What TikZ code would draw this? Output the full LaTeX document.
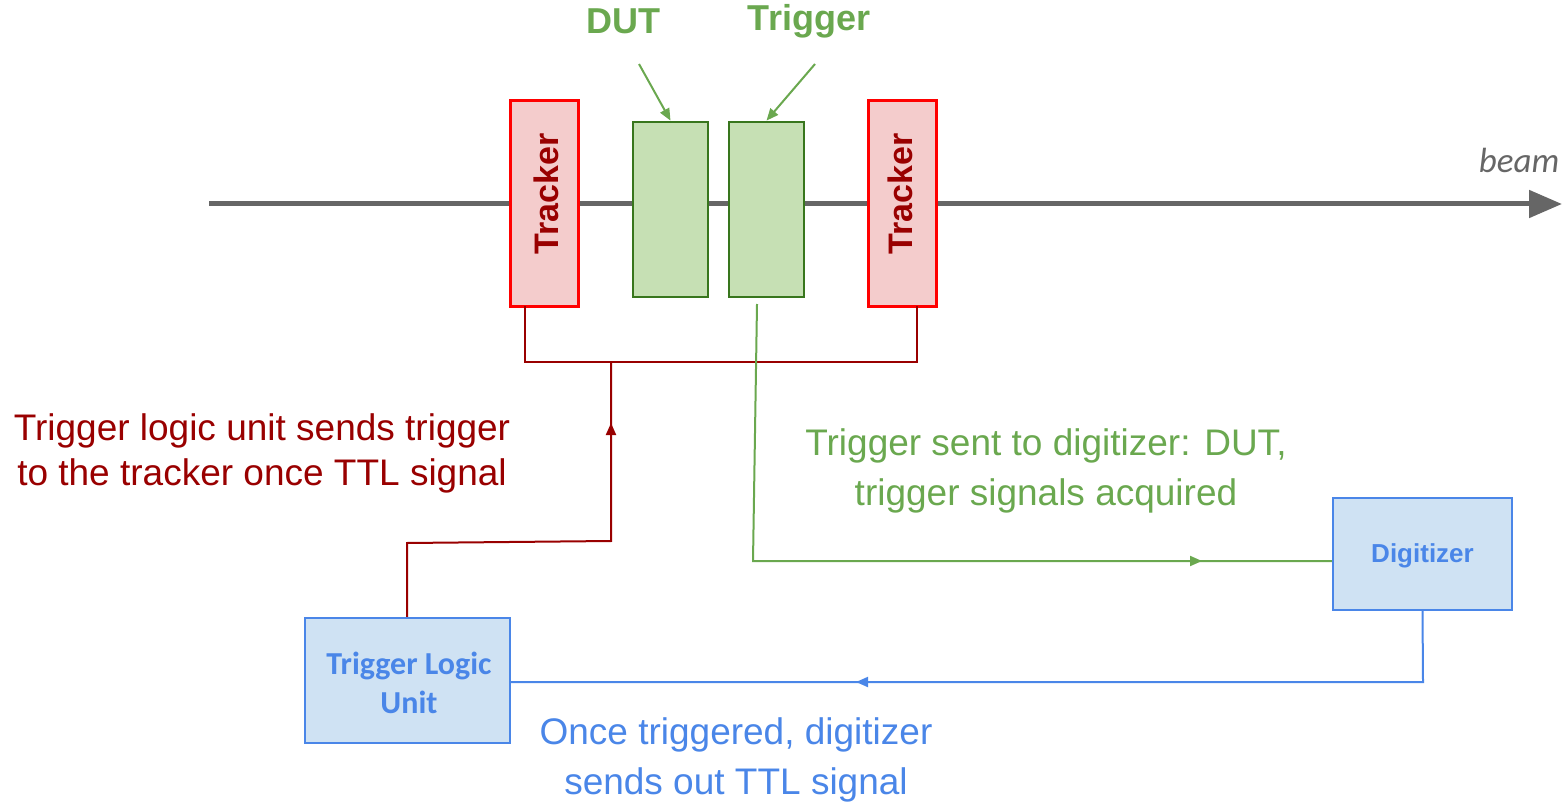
\documentclass[tikz,border=0pt]{standalone}
\usepackage{fontspec}
\setmainfont{Liberation Sans}
\newfontfamily\carlito{Carlito}
\usetikzlibrary{arrows.meta}
\definecolor{trkred}{HTML}{FF0000}
\definecolor{trkfill}{HTML}{F4CCCC}
\definecolor{dred}{HTML}{990000}
\definecolor{gtext}{HTML}{6AA84F}
\definecolor{gdark}{HTML}{38761D}
\definecolor{gfill}{HTML}{C6E0B4}
\definecolor{bline}{HTML}{4A86E8}
\definecolor{bfill}{HTML}{CFE2F3}
\definecolor{beamgray}{HTML}{666666}
\tikzset{
  trackerbox/.style={draw=trkred, fill=trkfill, line width=1.5pt, minimum width=34pt, minimum height=102.5pt, inner sep=0pt},
  detbox/.style={draw=gdark, fill=gfill, line width=1.4pt, minimum width=37.5pt, minimum height=87.5pt, inner sep=0pt},
  bluebox/.style={draw=bline, fill=bfill, line width=1.2pt, inner sep=0pt, text=bline},
  trackertext/.style={rotate=90, text=dred, inner sep=0pt, font=\bfseries\fontsize{17}{20}\selectfont},
  redwire/.style={draw=dred, line width=1pt},
  greenwire/.style={draw=gtext, line width=1pt},
  bluewire/.style={draw=bline, line width=1pt},
  smalltip/.style={-{Triangle[length=6pt,width=5pt]}},
  bodytext/.style={font=\fontsize{18.5}{22.5}\selectfont, align=center, inner sep=0pt},
}
\begin{document}
\begin{tikzpicture}[x=0.5pt,y=-0.5pt]
\useasboundingbox (0,0) rectangle (1562,802);
% beam
\coordinate (b0) at (209,204);
\coordinate (b1) at (1562,204);
\draw[beamgray, line width=2.5pt, -{Triangle[length=16.5pt,width=13.5pt]}] (b0) -- (b1);
\node[text=beamgray, font=\carlito\itshape\fontsize{17.5}{20}\selectfont, inner sep=0pt] (beamlbl) at (1519,160) {beam};
% detectors
\node[trackerbox] (trL) at (544,203.5) {};
\node[trackerbox] (trR) at (902,203.5) {};
\node[trackertext] (trLt) at (546,194) {Tracker};
\node[trackertext] (trRt) at (900,194) {Tracker};
\node[detbox] (dut) at (670.5,209.5) {};
\node[detbox] (trig) at (766.5,209.5) {};
% top labels
\node[text=gtext, font=\bfseries\fontsize{18}{21}\selectfont, inner sep=0pt] (dutlbl) at (623,21) {DUT};
\node[text=gtext, font=\bfseries\fontsize{18}{21}\selectfont, inner sep=0pt] (triglbl) at (809,21) {Trigger};
\coordinate (da) at (639,64);
\coordinate (ta) at (815,64);
\draw[greenwire, smalltip] (da) -- (dut.north);
\draw[greenwire, smalltip] (ta) -- (trig.north);
% boxes
\node[bluebox, minimum width=89.5pt, minimum height=56pt] (dig) at (1422.5,554) {};
\node[text=bline, inner sep=0pt, font=\bfseries\fontsize{13}{15}\selectfont] (digt) at (1422.5,556) {Digitizer};
\node[bluebox, minimum width=102.5pt, minimum height=62.5pt] (tlu) at (407.5,680.5) {};
\node[text=bline, inner sep=0pt, align=center, font=\carlito\bfseries\fontsize{16}{19.5}\selectfont] (tlut) at (409,683) {Trigger Logic\\Unit};
% red tracker bus
\coordinate (tl) at (525,306);
\coordinate (tr) at (917,306);
\coordinate (bl) at (525,362);
\coordinate (br) at (917,362);
\draw[redwire] (tl) -- (bl) -- (br) -- (tr);
\coordinate (r1) at (407,543);
\coordinate (r2) at (611,541);
\coordinate (r3) at (611,362);
\coordinate (ra) at (611,423);
\draw[redwire] (tlu.north -| r1) -- (r1) -- (r2) -- (r3);
\draw[redwire, smalltip] (r2) -- (ra);
% green trigger to digitizer
\coordinate (g1) at (757,304);
\coordinate (g2) at (753,561);
\coordinate (ga) at (1202,561);
\draw[greenwire] (g1) -- (g2) -- (dig.west |- g2);
\draw[greenwire, smalltip] (g2) -- (ga);
% blue digitizer to TLU
\coordinate (c1) at (1423,682);
\coordinate (ca) at (856,682);
\draw[bluewire] (dig.south) -- (c1) -- (tlu.east |- c1);
\draw[bluewire, smalltip] (c1) -- (ca);
% texts
\node[bodytext, text=dred] (redtxt) at (262,453) {Trigger logic unit sends trigger\\to the tracker once TTL signal};
\node[bodytext, text=gtext, font=\fontsize{18.5}{25}\selectfont] (greentxt) at (1046,471) {Trigger sent to digitizer: DUT,\\trigger signals acquired};
\node[bodytext, text=bline, font=\fontsize{18.5}{25}\selectfont] (bluetxt) at (736,760) {Once triggered, digitizer\\sends out TTL signal};
\end{tikzpicture}
\end{document}
